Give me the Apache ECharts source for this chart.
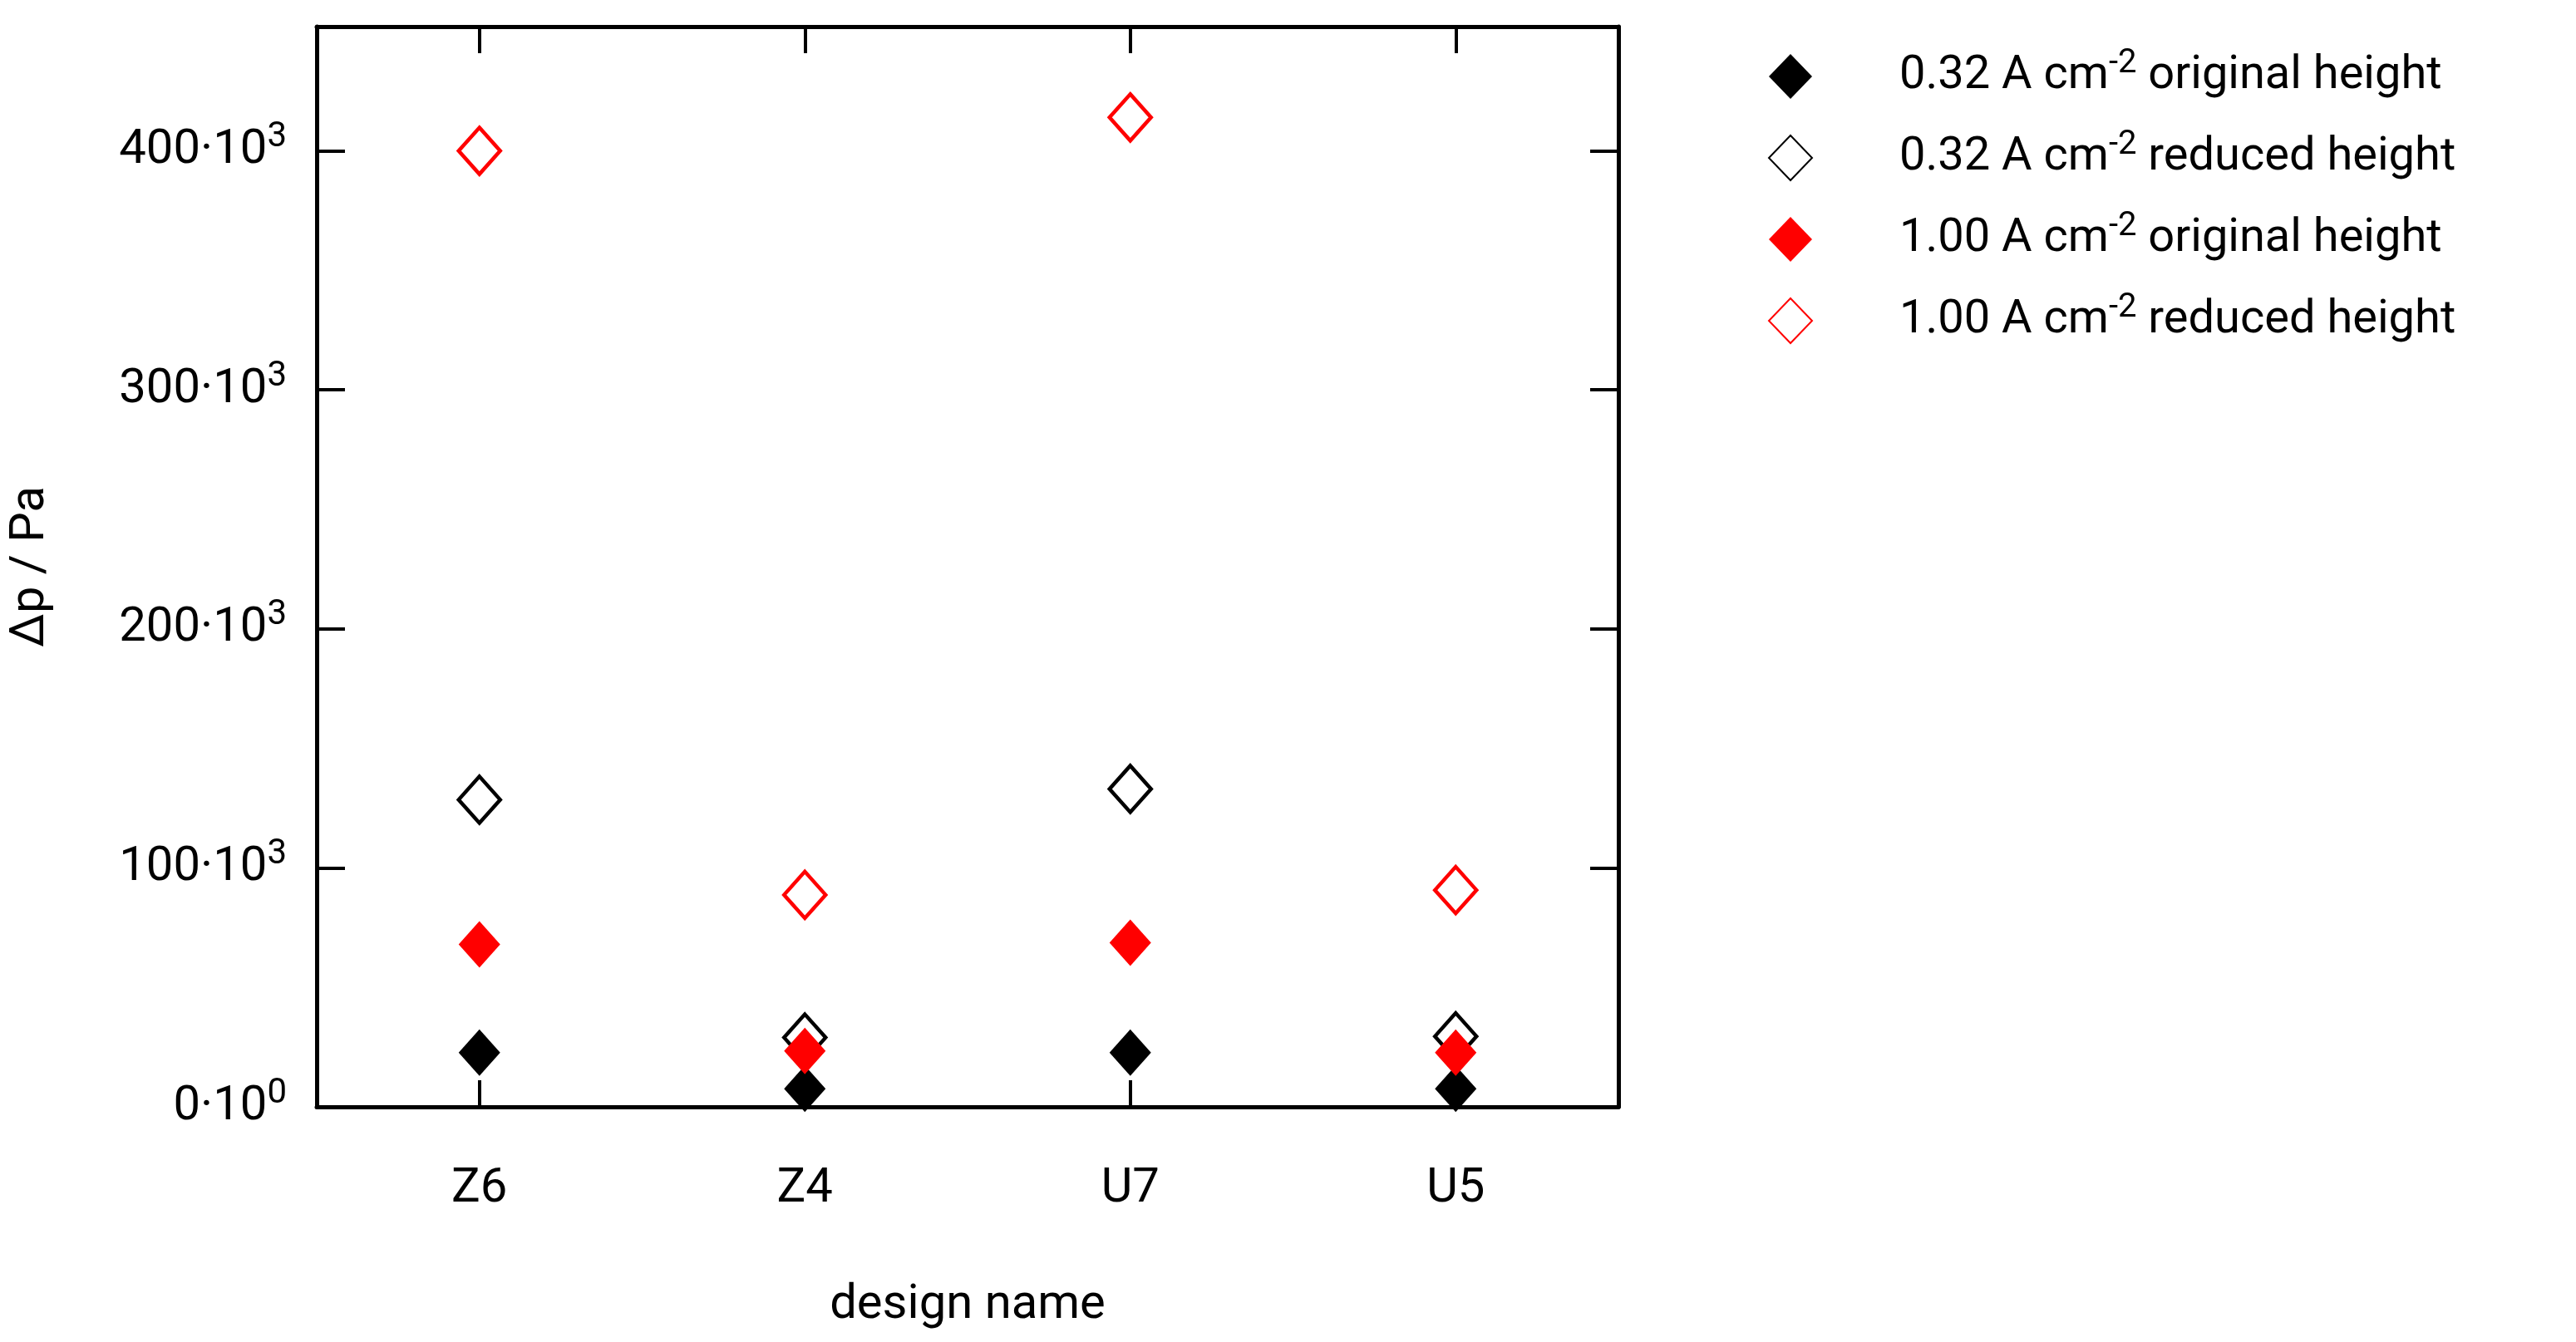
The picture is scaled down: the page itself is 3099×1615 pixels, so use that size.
<!DOCTYPE html>
<html><head><meta charset="utf-8">
<script src="https://cdn.jsdelivr.net/npm/echarts@6/dist/echarts.min.js"></script>
<style>html,body{margin:0;padding:0;background:#fff}#c{width:3099px;height:1615px}</style>
</head><body><div id="c"></div>
<script>
const categories = ['Z6', 'Z4', 'U7', 'U5'];
const low_original = [22700, 7600, 22700, 7600];
const low_reduced = [128500, 29000, 133000, 29500];
const high_original = [68000, 23400, 68700, 22700];
const high_reduced = [400000, 88700, 414000, 90700];
const yTickLabels = {0: ['0', '0'], 100000: ['100', '3'], 200000: ['200', '3'], 300000: ['300', '3'], 400000: ['400', '3']};
const seriesNames = ['0.32 A cm{s|-2} original height', '0.32 A cm{s|-2} reduced height', '1.00 A cm{s|-2} original height', '1.00 A cm{s|-2} reduced height'];

const F = 'Roboto';
const chart = echarts.init(document.getElementById('c'));
function mk(name, data, color, filled) {
  return {
    type: 'scatter', name, data, symbol: 'diamond', symbolSize: [50, 56],
    itemStyle: filled ? {color: color, borderWidth: 0, opacity: 1} : {color: '#fff', borderColor: color, borderWidth: 4.5, opacity: 1}
  };
}
const axisLine = {show: true, onZero: false, lineStyle: {color: '#000', width: 5}};
const tick = (len) => ({show: true, inside: true, alignWithLabel: true, length: len, lineStyle: {width: 4, color: '#000'}});
chart.setOption({
  animation: false,
  grid: {left: 377, right: 1152, top: 32, bottom: 283},
  legend: {
    orient: 'vertical', left: 2122, top: 52, itemWidth: 52, itemHeight: 54, itemGap: 35,
    formatter: n => n,
    textStyle: {fontFamily: F, fontSize: 56, color: '#000', padding: [0, 0, 0, 100],
      rich: {s: {fontFamily: F, fontSize: 40, verticalAlign: 'top', padding: [0, 0, 30, 0], color: '#000'}}}
  },
  xAxis: [{
    type: 'category', data: categories, boundaryGap: true, position: 'bottom',
    name: 'design name', nameLocation: 'middle', nameGap: 210,
    nameTextStyle: {fontFamily: F, fontSize: 58, color: '#000'},
    axisLine, axisTick: tick(32),
    axisLabel: {fontFamily: F, fontSize: 58, color: '#000', margin: 70}, splitLine: {show: false}
  }, {
    type: 'category', data: categories, boundaryGap: true, position: 'top',
    axisLine, axisTick: tick(32),
    axisLabel: {show: false}, splitLine: {show: false}
  }],
  yAxis: [{
    type: 'value', min: 0, max: 452000, interval: 100000, position: 'left',
    name: 'Δp / Pa', nameLocation: 'middle', nameGap: 315, nameRotate: 90,
    nameTextStyle: {fontFamily: F, fontSize: 58, color: '#000'},
    axisLine, axisTick: tick(34),
    axisLabel: {fontFamily: F, fontSize: 58, color: '#000', margin: 36,
      formatter: v => yTickLabels[v] ? '{b|' + yTickLabels[v][0] + '·10}{s|' + yTickLabels[v][1] + '}' : '',
      rich: {b: {fontFamily: F, fontSize: 58, color: '#000'}, s: {fontFamily: F, fontSize: 42, color: '#000', verticalAlign: 'top', padding: [0, 0, 32, 0]}}},
    splitLine: {show: false}
  }, {
    type: 'value', min: 0, max: 452000, interval: 100000, position: 'right',
    axisLine, axisTick: tick(34),
    axisLabel: {show: false}, splitLine: {show: false}
  }],
  series: [
    mk(seriesNames[0], low_original, '#000', true),
    mk(seriesNames[1], low_reduced, '#000', false),
    mk(seriesNames[2], high_original, '#ff0000', true),
    mk(seriesNames[3], high_reduced, '#ff0000', false)
  ]
});
</script></body></html>
